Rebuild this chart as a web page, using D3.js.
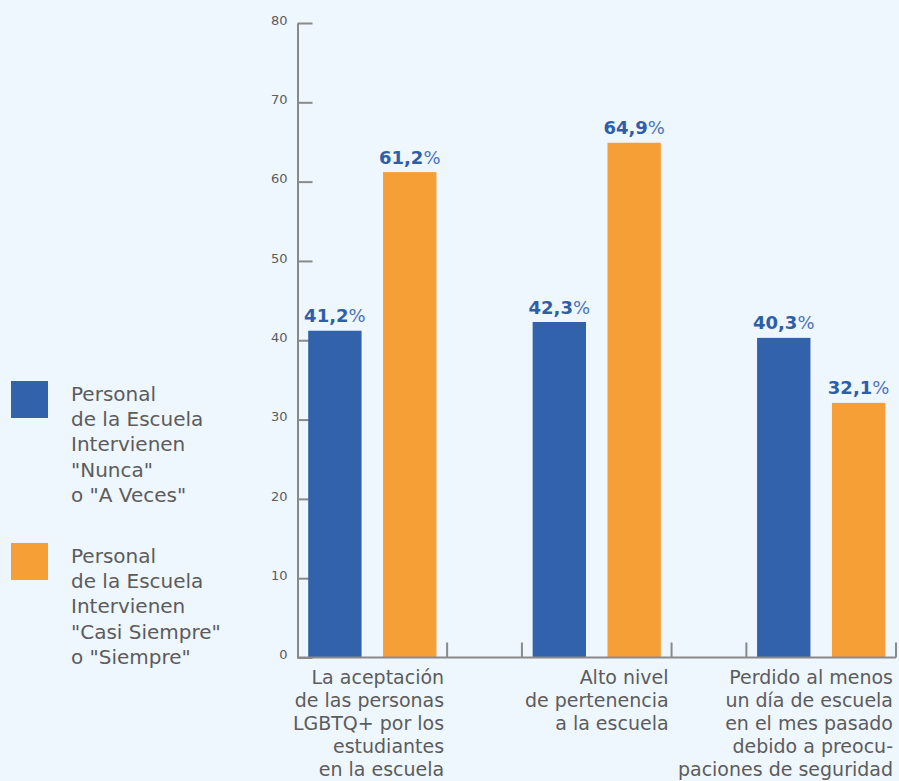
<!DOCTYPE html>
<html><head><meta charset="utf-8">
<script src="https://cdn.jsdelivr.net/npm/d3@7"></script>
<style>
html,body{margin:0;padding:0;background:#eef6fe;}
svg{display:block;}
text{font-family:"DejaVu Sans",sans-serif;}
</style></head>
<body><svg id="chart" width="899" height="781"></svg>
<script>
const categories = [
  ["La aceptación","de las personas","LGBTQ+ por los","estudiantes","en la escuela"],
  ["Alto nivel","de pertenencia","a la escuela"],
  ["Perdido al menos","un día de escuela","en el mes pasado","debido a preocu-","paciones de seguridad"]
];
const seriesNames = ["nunca","siempre"];
const nuncaValues = [41.2, 42.3, 40.3];
const siempreValues = [61.2, 64.9, 32.1];
const yTicks = [0,10,20,30,40,50,60,70,80];
const legendLabels = [
  ["Personal","de la Escuela","Intervienen","\"Nunca\"","o \"A Veces\""],
  ["Personal","de la Escuela","Intervienen","\"Casi Siempre\"","o \"Siempre\""]
];
const colors = {nunca:"#3162ab", siempre:"#f59f36"};
const axisColor = "#8a8a8a";
const textColor = "#5c5c5c";
const labelBlue = "#2f5ea8";

const svg = d3.select("#chart");
const data = categories.map((c,i)=>({cat:i, lines:c, nunca:nuncaValues[i], siempre:siempreValues[i]}));

const x0 = d3.scaleBand().domain(d3.range(categories.length)).range([297.5, 896]).paddingInner(1/3).paddingOuter(0);
const x1 = d3.scaleBand().domain(seriesNames).range([0, x0.bandwidth()]).paddingInner(0.287).paddingOuter(0.143);
const y = d3.scaleLinear().domain([0,80]).range([657.5, 23]);

// Y axis
const yAxis = d3.axisLeft(y).tickValues(yTicks).tickSizeInner(-15).tickSizeOuter(0).tickPadding(10);
const gy = svg.append("g").attr("transform","translate(297.5,0)").call(yAxis);
gy.selectAll("path.domain").attr("stroke",axisColor).attr("stroke-width",2);
gy.selectAll(".tick line").attr("stroke",axisColor).attr("stroke-width",2);
gy.selectAll(".tick text").attr("fill",textColor).attr("font-size",13).attr("dy","0.1em")
  .attr("x",-10).style("font-family","'DejaVu Sans',sans-serif");

// bars
const groups = svg.append("g").selectAll("g").data(data).join("g")
  .attr("transform",d=>`translate(${x0(d.cat)},0)`);
groups.selectAll("rect").data(d=>seriesNames.map(k=>({key:k,value:d[k]}))).join("rect")
  .attr("x",d=>x1(d.key)).attr("width",x1.bandwidth())
  .attr("y",d=>y(d.value)).attr("height",d=>y(0)-y(d.value))
  .attr("fill",d=>colors[d.key]);

// value labels
const vl = groups.selectAll("text.val").data(d=>seriesNames.map(k=>({key:k,value:d[k]}))).join("text")
  .attr("class","val")
  .attr("x",d=>x1(d.key)+x1.bandwidth()/2).attr("y",d=>y(d.value)-8.5)
  .attr("text-anchor","middle").attr("font-size",18).attr("fill",labelBlue);
vl.append("tspan").attr("font-weight","bold").text(d=>d.value.toFixed(1).replace(".",","));
vl.append("tspan").attr("font-weight","normal").attr("fill","#4a74b8").text("%");

// bottom axis line
svg.append("line").attr("x1",297.5).attr("x2",x0.range()[1]).attr("y1",y(0)).attr("y2",y(0))
  .attr("stroke",axisColor).attr("stroke-width",2);
const edges = [];
data.forEach(d=>{ if(d.cat>0) edges.push(x0(d.cat)); edges.push(x0(d.cat)+x0.bandwidth()); });
svg.append("g").selectAll("line").data(edges).join("line")
  .attr("x1",d=>d).attr("x2",d=>d).attr("y1",y(0)-15).attr("y2",y(0))
  .attr("stroke",axisColor).attr("stroke-width",2);

// category labels
svg.append("g").selectAll("text").data(data).join("text")
  .attr("text-anchor","end").attr("font-size",19).attr("fill",textColor)
  .each(function(d){
    const t = d3.select(this);
    const xr = Math.min(x0(d.cat)+x0.bandwidth()-3, 895);
    d.lines.forEach((l,i)=>t.append("tspan").attr("x",xr).attr("y",684+i*23).text(l));
  });

// legend
const legend = svg.append("g");
const legTops = [381, 543];
seriesNames.forEach((k,i)=>{
  legend.append("rect").attr("x",11).attr("y",legTops[i]).attr("width",37).attr("height",37).attr("fill",colors[k]);
  const t = legend.append("text").attr("font-size",20).attr("fill",textColor);
  legendLabels[i].forEach((l,j)=>t.append("tspan").attr("x",71).attr("y",legTops[i]+20+j*25.2).text(l));
});
</script></body></html>
